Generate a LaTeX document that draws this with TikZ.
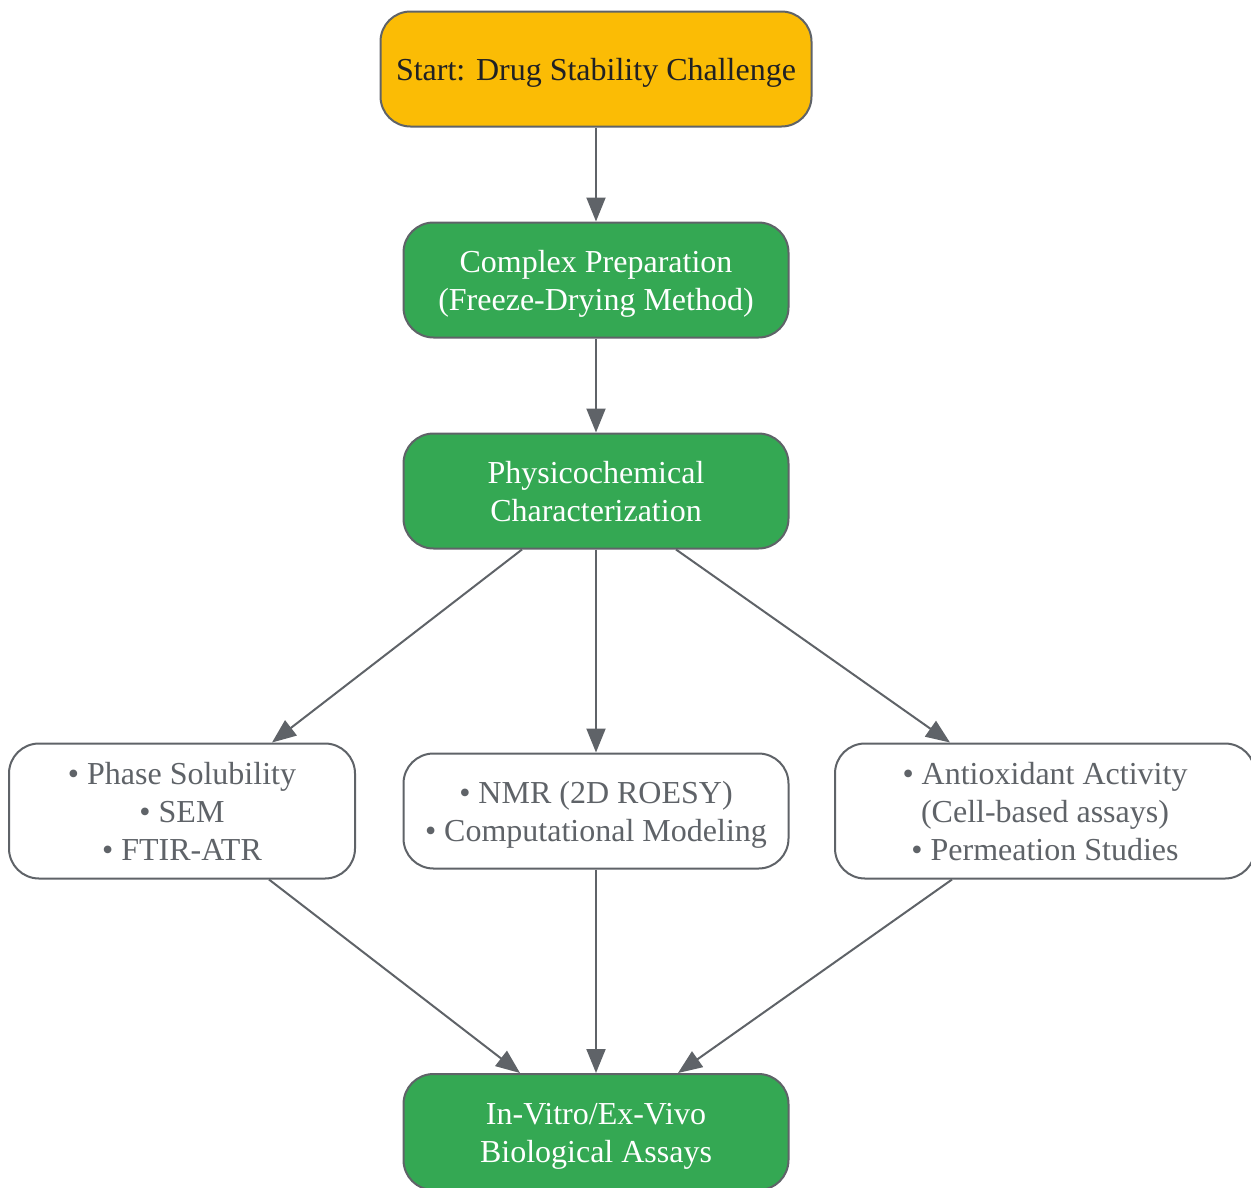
\documentclass[tikz,border=0pt]{standalone}
\usepackage{fontspec}
\setmainfont{Liberation Serif}
\usetikzlibrary{arrows.meta}
\definecolor{edgegray}{HTML}{5F6368}
\definecolor{startfill}{HTML}{FBBC05}
\definecolor{greenfill}{HTML}{34A853}
\definecolor{darktext}{HTML}{202124}
\tikzset{
  box/.style={draw=edgegray, line width=2pt, rounded corners=30pt, align=center,
    font=\fontsize{32}{38}\selectfont, inner sep=0pt, text depth=2pt},
  oneline/.style={text height=25pt},
  twolines/.style={text height=63pt},
  threelines/.style={text height=101pt},
  startbox/.style={box, oneline, fill=startfill, text=darktext, minimum width=431pt, minimum height=115pt},
  greenbox/.style={box, twolines, fill=greenfill, text=white, minimum width=385pt, minimum height=115pt},
  whitebox/.style={box, fill=white, text=edgegray},
  conn/.style={draw=edgegray, line width=2pt, -{Triangle[length=24pt,width=19pt]}}
}
\begin{document}
\begin{tikzpicture}[x=1pt,y=-1pt]
\useasboundingbox (0,0) rectangle (1251,1187);
\node[startbox] (start) at (596,69) {Start: Drug Stability Challenge};
\node[greenbox] (prep) at (596,280) {Complex Preparation\\(Freeze-Drying Method)};
\node[greenbox] (phys) at (596,491) {Physicochemical\\Characterization};
\node[whitebox, threelines, minimum width=346pt, minimum height=135pt] (left) at (182,811) {• Phase Solubility\\• SEM\\• FTIR-ATR};
\node[whitebox, twolines, minimum width=385pt, minimum height=115pt] (mid) at (596,811) {• NMR (2D ROESY)\\• Computational Modeling};
\node[whitebox, threelines, minimum width=420pt, minimum height=135pt] (right) at (1045,811) {• Antioxidant Activity\\(Cell-based assays)\\• Permeation Studies};
\node[greenbox, minimum height=116pt] (bio) at (596,1132) {In-Vitro/Ex-Vivo\\Biological Assays};
\draw[conn] (start) -- (prep);
\draw[conn] (prep) -- (phys);
\draw[conn] ([xshift=-74pt]phys.south) -- ([xshift=90pt]left.north);
\draw[conn] (phys) -- (mid);
\draw[conn] ([xshift=80pt]phys.south) -- ([xshift=-95pt]right.north);
\draw[conn] ([xshift=87pt]left.south) -- ([xshift=-76pt]bio.north);
\draw[conn] (mid) -- (bio);
\draw[conn] ([xshift=-93pt]right.south) -- ([xshift=82pt]bio.north);
\end{tikzpicture}
\end{document}
